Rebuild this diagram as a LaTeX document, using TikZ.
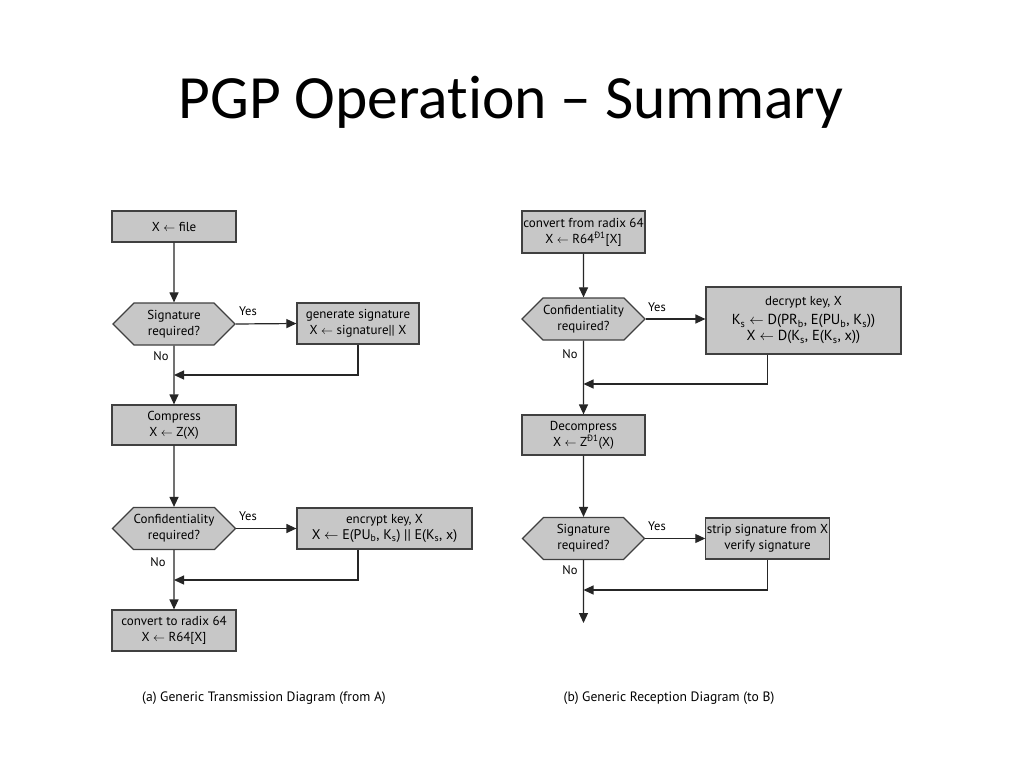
\documentclass[tikz,border=0pt]{standalone}
\usepackage{fontspec}
\setmainfont{PT Sans}
\newfontfamily\titlefont[Ligatures=NoCommon]{Carlito}
\usepackage{xcolor}
\usetikzlibrary{positioning, arrows.meta, shapes.symbols}

\begin{document}
\begin{tikzpicture}[x=1pt, y=-1pt,
    process/.style={rectangle, draw=black!75, line width=1.2pt, fill=black!22, inner sep=1pt, align=center, font=\fontsize{13}{16}\selectfont},
    decision/.style={signal, signal to=west and east, draw=black!75, line width=1.2pt, fill=black!22, minimum width=122pt, minimum height=42pt, inner sep=0pt, align=center, font=\fontsize{13}{16}\selectfont},
    arrow/.style={-{Triangle[length=10pt, width=9pt]}, line width=1.2pt, black!85},
    answer/.style={font=\fontsize{12.5}{14}\selectfont},
    caption/.style={font=\fontsize{13.6}{16}\selectfont}
]
\useasboundingbox[fill=white] (0,0) rectangle (1024,768);

% Title
\node[anchor=base, font=\titlefont\fontsize{61.5}{70}\selectfont] (title) at (511,118) {PGP Operation – Summary};

% Transmission side
\node[process, minimum width=124pt, minimum height=31pt] (file) at (174,226.5) {X $\leftarrow$ file};
\node[decision] (sigA) at (174,324) {Signature\\required?};
\node[process, minimum width=122pt, minimum height=41pt] (gensig) at (358,323.5) {generate signature\\X $\leftarrow$ signature|| X};
\node[process, minimum width=124pt, minimum height=40pt] (compress) at (174,425) {Compress\\X $\leftarrow$ Z(X)};
\node[decision] (confA) at (174,528.5) {Confidentiality\\required?};
\node[process, minimum width=175pt, minimum height=41pt] (encrypt) at (384.5,528.5) {encrypt key, X\\{\fontsize{14}{16}\selectfont X $\leftarrow$ E(PU\textsubscript{b}, K\textsubscript{s}) || E(K\textsubscript{s}, x)}};
\node[process, minimum width=124pt, minimum height=41pt] (toradix) at (174,630.5) {convert to radix 64\\X $\leftarrow$ R64[X]};

% Reception side
\node[process, minimum width=123pt, minimum height=42pt] (fromradix) at (583.5,232) {convert from radix 64\\X $\leftarrow$ R64\textsuperscript{Ð1}[X]};
\node[decision] (confB) at (583.5,319) {Confidentiality\\required?};
\node[process, minimum width=195pt, minimum height=67pt] (decrypt) at (803.5,320.5) {decrypt key, X\\[3pt]{\fontsize{14.5}{18}\selectfont K\textsubscript{s} $\leftarrow$ D(PR\textsubscript{b}, E(PU\textsubscript{b}, K\textsubscript{s}))}\\{\fontsize{14.5}{18}\selectfont X $\leftarrow$ D(K\textsubscript{s}, E(K\textsubscript{s}, x))}};
\node[process, minimum width=123pt, minimum height=40pt] (decompress) at (583.5,435) {Decompress\\X $\leftarrow$ Z\textsuperscript{Ð1}(X)};
\node[decision] (sigB) at (583.5,538.5) {Signature\\required?};
\node[process, minimum width=123pt, minimum height=41pt] (strip) at (767.5,538.5) {strip signature from X\\verify signature};

% Join points and end
\coordinate (joinA) at (174,375);
\coordinate (joinB) at (174,580);
\coordinate (joinC) at (583.5,384);
\coordinate (joinD) at (583.5,590);
\coordinate (out) at (583.5,623);

% Connections, transmission
\draw[arrow] (file) -- (sigA);
\draw[arrow] (sigA.east) -- (gensig.west);
\draw[arrow] (gensig.south) |- (joinA);
\draw[arrow] (sigA) -- (compress);
\draw[arrow] (compress) -- (confA);
\draw[arrow] (confA.east) -- (encrypt.west);
\draw[arrow] (encrypt.south -| gensig.south) |- (joinB);
\draw[arrow] (confA) -- (toradix);

% Connections, reception
\draw[arrow] (fromradix) -- (confB);
\draw[arrow] (confB.east) -- (confB.east -| decrypt.west);
\draw[arrow] (decrypt.south -| strip.south) |- (joinC);
\draw[arrow] (confB) -- (decompress);
\draw[arrow] (decompress) -- (sigB);
\draw[arrow] (sigB.east) -- (strip.west);
\draw[arrow] (strip.south) |- (joinD);
\draw[arrow] (sigB) -- (out);

% Yes / No
\node[answer] at (248,311) {Yes};
\node[answer] at (161,356) {No};
\node[answer] at (248,516) {Yes};
\node[answer] at (158,562) {No};
\node[answer] at (657,307) {Yes};
\node[answer] at (570,354) {No};
\node[answer] at (657,526) {Yes};
\node[answer] at (570,570) {No};

% Captions
\node[caption] (capA) at (264,698) {(a) Generic Transmission Diagram (from A)};
\node[caption] (capB) at (669,698) {(b) Generic Reception Diagram (to B)};

\end{tikzpicture}
\end{document}
